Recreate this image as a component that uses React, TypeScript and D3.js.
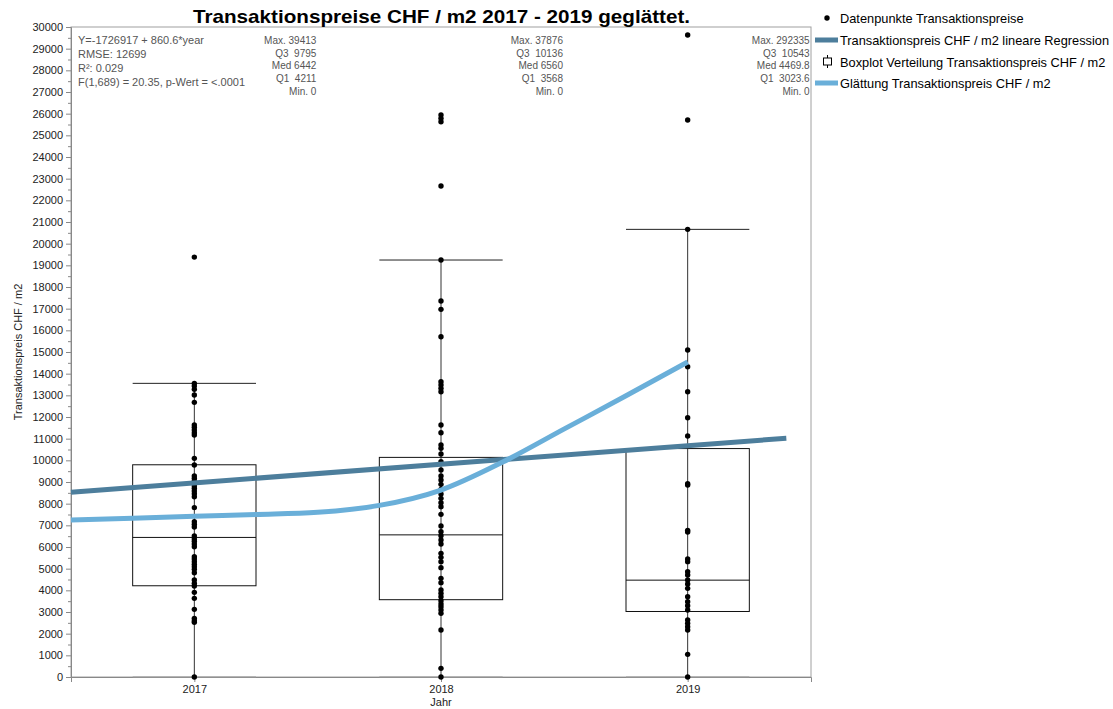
import { useRef, useEffect } from "react";
import * as d3 from "d3";

const YEARS = [2017, 2018, 2019];

const points2017 = [19380, 13553, 13430, 13276, 13015, 12676, 11630, 11522, 11400, 11276, 11168, 10092, 9784, 9276,
  9168, 9045, 8938, 8815, 8707, 8584, 8461, 8322, 7815, 7169, 7046, 6923, 6507, 6369, 6261, 6138, 6015, 5553, 5446,
  5323, 5200, 5092, 4969, 4815, 4477, 4323, 4200, 3907, 3630, 3123, 2707, 2600, 2523, 0];
const points2018 = [25937, 25783, 25630, 22660, 19245, 17352, 16968, 15706, 13630, 13476, 13323, 13168, 11630, 11276,
  10707, 10553, 10292, 9938, 9553, 9276, 9092, 8892, 8661, 8446, 8245, 8046, 7861, 7507, 6969, 6707, 6523, 6323, 6138,
  5707, 5523, 5323, 5046, 4553, 4354, 4015, 3861, 3707, 3523, 3369, 3246, 3092, 2938, 2169, 400, 0];
const points2019 = [29630, 25707, 20660, 15092, 14322, 13168, 11968, 11122, 8920, 8860, 6769, 6692, 5446, 5323, 4861,
  4708, 4477, 4292, 4092, 3707, 3477, 3292, 3092, 2630, 2477, 2323, 2169, 1046, 0];
const POINTS = [points2017, points2018, points2019];

// box stats: lower whisker, Q1, median, Q3, upper whisker
const Q1 = [4211, 3568, 3023.6];
const MED = [6442, 6560, 4469.8];
const Q3 = [9795, 10136, 10543];
const WHISK_LO = [0, 0, 0];
const WHISK_HI = [13553, 19245, 20660];

const STAT_LABELS = [
  ["Max. 39413", "Q3  9795", "Med 6442", "Q1  4211", "Min. 0"],
  ["Max. 37876", "Q3  10136", "Med 6560", "Q1  3568", "Min. 0"],
  ["Max. 292335", "Q3  10543", "Med 4469.8", "Q1  3023.6", "Min. 0"],
];

const FIT_TEXT = [
  "Y=-1726917 + 860.6*year",
  "RMSE: 12699",
  "R²: 0.029",
  "F(1,689) = 20.35, p-Wert = <.0001",
];

const REG_YEARS = [2016.5, 2019.4];
const REG_VALUES = [8530, 11020];

const SMOOTH_YEARS = [2016.5, 2016.75, 2017, 2017.25, 2017.5, 2017.75, 2018, 2018.25, 2018.5, 2018.75, 2019];
const SMOOTH_VALUES = [7250, 7330, 7420, 7500, 7600, 7920, 8630, 9920, 11450, 12980, 14540];

const LEGEND = [
  "Datenpunkte Transaktionspreise",
  "Transaktionspreis CHF / m2 lineare Regression",
  "Boxplot Verteilung Transaktionspreis CHF / m2",
  "Glättung Transaktionspreis CHF / m2",
];

const REG_COLOR = "#4d7e9c";
const SMOOTH_COLOR = "#6aafd9";
const FONT = "Liberation Sans, Arial, sans-serif";

export default function App() {
  const svgRef = useRef<SVGSVGElement>(null);

  useEffect(() => {
    const W = 1113;
    const H = 709;
    const m = { left: 71, top: 27, right: 302, bottom: 32 };
    const w = W - m.left - m.right;
    const h = H - m.top - m.bottom;

    const root = d3.select(svgRef.current);
    root.selectAll("*").remove();
    root.attr("width", W).attr("height", H).style("font-family", FONT);

    const svg = root.append("g").attr("transform", `translate(${m.left},${m.top})`);

    const x = d3.scaleLinear().domain([2016.5, 2019.5]).range([0, w]);
    const y = d3.scaleLinear().domain([0, 30000]).range([h, 0]);

    // frame
    svg.append("rect").attr("width", w).attr("height", h).attr("fill", "none").attr("stroke", "#a0a0a0");

    // y axis
    svg
      .append("g")
      .call(d3.axisLeft(y).tickValues(d3.range(0, 30001, 1000)).tickSize(5).tickFormat(d3.format("d")))
      .call((g) => {
        g.select(".domain").attr("stroke", "#888");
        g.selectAll("line").attr("stroke", "#888");
        g.selectAll("text").attr("fill", "#222").attr("font-size", "11px").attr("font-family", FONT);
      });
    svg
      .append("g")
      .call(d3.axisLeft(y).tickValues(d3.range(500, 30000, 1000)).tickSize(3).tickFormat(() => ""))
      .call((g) => {
        g.select(".domain").remove();
        g.selectAll("line").attr("stroke", "#888");
      });

    // x axis
    svg
      .append("g")
      .attr("transform", `translate(0,${h})`)
      .call(d3.axisBottom(x).tickValues(YEARS).tickSize(5).tickFormat(d3.format("d")))
      .call((g) => {
        g.select(".domain").attr("stroke", "#888");
        g.selectAll("line").attr("stroke", "#888");
        g.selectAll("text").attr("fill", "#222").attr("font-size", "11px").attr("font-family", FONT);
      });

    // axis titles
    root.append("text").attr("x", m.left + x(2018)).attr("y", 706).attr("text-anchor", "middle")
      .attr("font-size", "11px").attr("fill", "#222").text("Jahr");
    root.append("text").attr("transform", `translate(22,352) rotate(-90)`).attr("text-anchor", "middle")
      .attr("font-size", "11px").attr("fill", "#222").text("Transaktionspreis CHF / m2");

    // title
    root.append("text").attr("x", 193).attr("y", 23)
      .attr("font-size", "19px").attr("font-weight", "bold").attr("fill", "#000")
      .attr("textLength", 497).attr("lengthAdjust", "spacingAndGlyphs")
      .text("Transaktionspreise CHF / m2 2017 - 2019 geglättet.");

    // boxes
    const half = x(2017.25) - x(2017);
    YEARS.forEach((yr, i) => {
      const cx = x(yr);
      svg.append("line").attr("x1", cx).attr("x2", cx).attr("y1", y(WHISK_LO[i])).attr("y2", y(WHISK_HI[i]))
        .attr("stroke", "#333");
      svg.append("line").attr("x1", cx - half).attr("x2", cx + half).attr("y1", y(WHISK_HI[i])).attr("y2", y(WHISK_HI[i]))
        .attr("stroke", "#222");
      svg.append("line").attr("x1", cx - half).attr("x2", cx + half).attr("y1", y(WHISK_LO[i])).attr("y2", y(WHISK_LO[i]))
        .attr("stroke", "#999");
      svg.append("rect").attr("x", cx - half).attr("width", 2 * half).attr("y", y(Q3[i]))
        .attr("height", y(Q1[i]) - y(Q3[i])).attr("fill", "none").attr("stroke", "#111");
      svg.append("line").attr("x1", cx - half).attr("x2", cx + half).attr("y1", y(MED[i])).attr("y2", y(MED[i]))
        .attr("stroke", "#111");

      svg.selectAll(null).data(POINTS[i]).enter().append("circle")
        .attr("cx", cx).attr("cy", (d) => y(d)).attr("r", 2.7).attr("fill", "#000");

      // stats
      svg.append("g").selectAll("text").data(STAT_LABELS[i]).enter().append("text")
        .attr("x", cx + 122).attr("y", (_, k) => 17 + k * 12.7).attr("text-anchor", "end")
        .attr("font-size", "10px").attr("fill", "#555").attr("xml:space", "preserve")
        .style("white-space", "pre").text((d) => d);
    });

    // fit text
    svg.append("g").selectAll("text").data(FIT_TEXT).enter().append("text")
      .attr("x", 7).attr("y", (_, k) => 17 + k * 14).attr("font-size", "11px").attr("fill", "#555").text((d) => d);

    // regression
    const line = d3.line<[number, number]>().x((d) => x(d[0])).y((d) => y(d[1]));
    svg.append("path").datum(REG_YEARS.map((yr, k) => [yr, REG_VALUES[k]] as [number, number]))
      .attr("d", line).attr("fill", "none").attr("stroke", REG_COLOR).attr("stroke-width", 5);

    // smoothing
    const sline = d3.line<[number, number]>().x((d) => x(d[0])).y((d) => y(d[1])).curve(d3.curveMonotoneX);
    svg.append("path").datum(SMOOTH_YEARS.map((yr, k) => [yr, SMOOTH_VALUES[k]] as [number, number]))
      .attr("d", sline).attr("fill", "none").attr("stroke", SMOOTH_COLOR).attr("stroke-width", 5)
      .attr("stroke-linecap", "butt");

    // legend
    const lg = root.append("g").attr("transform", "translate(812,0)");
    const rows = [18, 40, 62, 83];
    lg.append("circle").attr("cx", 15).attr("cy", rows[0]).attr("r", 2.7).attr("fill", "#000");
    lg.append("rect").attr("x", 3).attr("y", rows[1] - 2.5).attr("width", 23).attr("height", 5).attr("fill", REG_COLOR);
    lg.append("line").attr("x1", 15.5).attr("x2", 15.5).attr("y1", rows[2] - 7).attr("y2", rows[2] + 6).attr("stroke", "#000");
    lg.append("rect").attr("x", 11.5).attr("y", rows[2] - 4).attr("width", 8).attr("height", 7).attr("fill", "#fff").attr("stroke", "#000");
    lg.append("rect").attr("x", 3).attr("y", rows[3] - 2.5).attr("width", 23).attr("height", 5).attr("fill", SMOOTH_COLOR);
    lg.selectAll("text.lt").data(LEGEND).enter().append("text").attr("class", "lt")
      .attr("x", 28).attr("y", (_, k) => rows[k] + 4.5).attr("font-size", "12.8px").attr("fill", "#000").text((d) => d);
  }, []);

  return <svg ref={svgRef} style={{ position: "absolute", left: 0, top: 0, display: "block" }} />;
}
